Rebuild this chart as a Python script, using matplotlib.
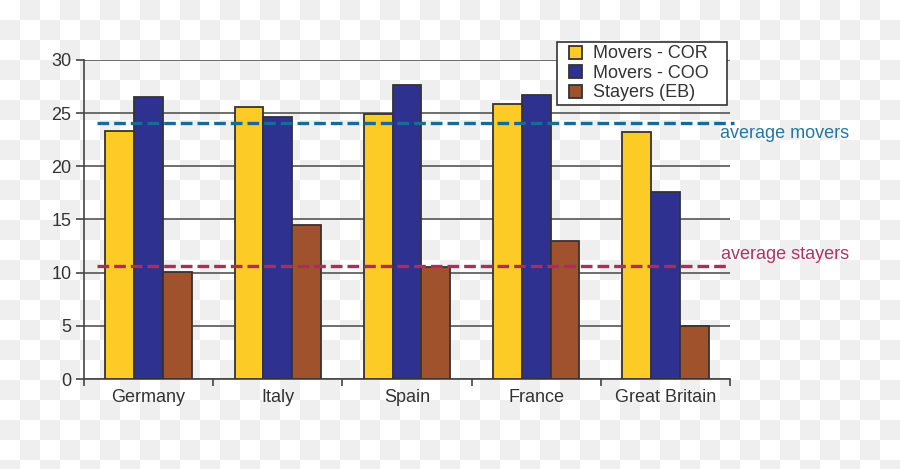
import numpy as np
import matplotlib
matplotlib.use("Agg")
import matplotlib.pyplot as plt
from matplotlib.colors import ListedColormap
from matplotlib.patches import Rectangle
from matplotlib.legend_handler import HandlerPatch

plt.rcParams['font.family'] = ['Liberation Sans', 'DejaVu Sans']

# data
countries = ['Germany', 'Italy', 'Spain', 'France', 'Great Britain']
movers_cor = [23.3, 25.55, 24.9, 25.85, 23.2]
movers_coo = [26.5, 24.65, 27.65, 26.7, 17.6]
stayers_eb = [10.1, 14.45, 10.55, 13.0, 5.0]
avg_movers = 24.1
avg_stayers = 10.6

series = [('Movers - COR', movers_cor, '#fccb25'),
          ('Movers - COO', movers_coo, '#2e3190'),
          ('Stayers (EB)', stayers_eb, '#a0522d')]

fig = plt.figure(figsize=(9, 4.69), dpi=100)

# transparent-style checkerboard background
bg = fig.add_axes([0, 0, 1, 1], zorder=-10)
rows, cols = 24, 45
checker = np.indices((rows, cols)).sum(axis=0) % 2
bg.imshow(checker, cmap=ListedColormap(['#ffffff', '#efefef']),
          extent=(0, cols * 20, rows * 20, 0), interpolation='nearest')
bg.set_xlim(0, 900)
bg.set_ylim(469, 0)
bg.axis('off')

ax = fig.add_axes([84 / 900, 1 - 379 / 469, 646 / 900, 319 / 469])
ax.patch.set_visible(False)

x = np.arange(len(countries))
w = 0.223
handles = []
for i, (name, vals, col) in enumerate(series):
    ax.bar(x + (i - 1) * w, vals, w, color=col, edgecolor='#333333',
           linewidth=1.3, zorder=3)
    handles.append(Rectangle((0, 0), 1, 1, facecolor=col, edgecolor='#333333',
                             linewidth=1.3, label=name))

ax.set_xlim(-0.5, len(countries) - 0.5)
ax.set_ylim(0, 30)
ax.set_yticks(range(0, 31, 5))
ax.yaxis.grid(True, color='#555555', linewidth=1.2, zorder=0)
ax.set_axisbelow(True)

ax.set_xticks(np.arange(-0.5, len(countries)), labels=[''] * (len(countries) + 1))
ax.set_xticks(x, labels=countries, minor=True)
ax.tick_params(axis='x', which='major', length=5, width=1.2, color='#444444')
ax.tick_params(axis='x', which='minor', length=0, pad=7, labelsize=13, labelcolor='#333333')
ax.tick_params(axis='y', length=6, width=1.2, color='#444444', labelsize=13,
               labelcolor='#333333', pad=3)

for s in ['top', 'right']:
    ax.spines[s].set_visible(False)
for s in ['left', 'bottom']:
    ax.spines[s].set_color('#444444')
    ax.spines[s].set_linewidth(1.2)

# average lines
ax.plot([-0.4, 4.53], [avg_movers, avg_movers], color='#1a6a96', lw=2.4,
        dashes=(3.5, 1.5), clip_on=False, zorder=4)
ax.plot([-0.4, 4.5], [avg_stayers, avg_stayers], color='#a82f5a', lw=2.4,
        dashes=(3.5, 1.5), clip_on=False, zorder=4)
ax.text(4.42, avg_movers - 1.05, 'average movers', color='#2378a3', fontsize=13,
        va='center', ha='left', clip_on=False)
ax.text(4.43, avg_stayers + 1.15, 'average stayers', color='#b03463', fontsize=13,
        va='center', ha='left', clip_on=False)


# small square swatch sitting at the right of a wider handle box
def square(legend, orig_handle, xdescent, ydescent, width, height, fontsize):
    s = 9.5
    return Rectangle((-xdescent + width - s, -ydescent + (height - s) / 2), s, s)


leg = ax.legend(handles=handles, loc='upper right', bbox_to_anchor=(0.9954, 1.057),
                fontsize=13, frameon=True, fancybox=False, edgecolor='#333333',
                framealpha=1, handlelength=1.15, handleheight=0.75, handletextpad=0.6,
                labelspacing=0.14, borderpad=0.2, borderaxespad=0,
                handler_map={Rectangle: HandlerPatch(patch_func=square)})
leg.get_frame().set_linewidth(1.2)
leg.set_zorder(10)
for t in leg.get_texts():
    t.set_color('#333333')
    t.set_text(t.get_text() + '   ')

fig.savefig('out.png', dpi=100)
